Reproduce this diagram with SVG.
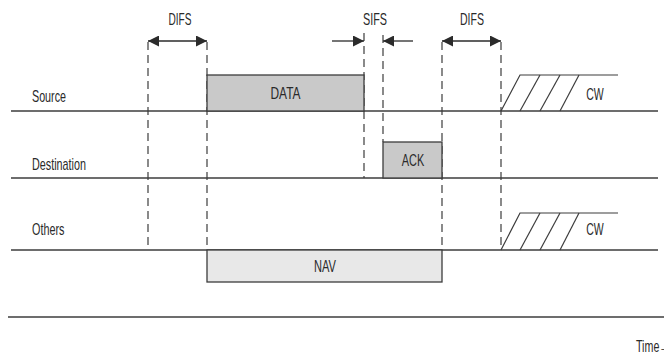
<svg xmlns="http://www.w3.org/2000/svg" width="664" height="354" viewBox="0 0 664 354">
  <defs>
    <marker id="head" viewBox="0 0 11 11" refX="11" refY="5.5" markerWidth="11" markerHeight="11" markerUnits="userSpaceOnUse" orient="auto-start-reverse">
      <path d="M0,0 L11,5.5 L0,11 Z" fill="#2b2b2b"/>
    </marker>
    <style>
      .lbl { font-family: "Liberation Sans", Arial, sans-serif; font-size: 17px; fill: #2a2a2a; }
      .mid { text-anchor: middle; }
      .lane { stroke: #3c3c3c; stroke-width: 1.4; fill: none; }
      .dash { stroke: #3c3c3c; stroke-width: 1.2; stroke-dasharray: 8 5; fill: none; }
      .frame { stroke: #3c3c3c; stroke-width: 1.3; }
      .hatch { stroke: #3c3c3c; stroke-width: 1.2; fill: none; }
      .span { stroke: #2b2b2b; stroke-width: 1.3; fill: none; }
    </style>
  </defs>

  <rect width="664" height="354" fill="#ffffff"/>

  <!-- station lanes -->
  <g id="lane-source">
    <line class="lane" x1="11" y1="111" x2="658" y2="111"/>
    <text class="lbl" x="32" y="101.5" textLength="34" lengthAdjust="spacingAndGlyphs">Source</text>
  </g>
  <g id="lane-destination">
    <line class="lane" x1="11" y1="178" x2="658" y2="178"/>
    <text class="lbl" x="32" y="170" textLength="54" lengthAdjust="spacingAndGlyphs">Destination</text>
  </g>
  <g id="lane-others">
    <line class="lane" x1="11" y1="250" x2="658" y2="250"/>
    <text class="lbl" x="32" y="235" textLength="32.5" lengthAdjust="spacingAndGlyphs">Others</text>
  </g>
  <g id="time-axis">
    <line class="lane" x1="8" y1="317" x2="664" y2="317"/>
    <text class="lbl" x="636" y="352" textLength="34" lengthAdjust="spacingAndGlyphs">Time→</text>
  </g>

  <!-- timing guides and interval arrows -->
  <g id="connectors">
    <line class="dash" x1="148" y1="42" x2="148" y2="250"/>
    <line class="dash" x1="207" y1="42" x2="207" y2="250"/>
    <line class="dash" x1="364" y1="33" x2="364" y2="178"/>
    <line class="dash" x1="383" y1="35" x2="383" y2="142"/>
    <line class="dash" x1="442" y1="42" x2="442" y2="250"/>
    <line class="dash" x1="501" y1="42" x2="501" y2="250"/>

    <line class="span" x1="148" y1="41" x2="207" y2="41" marker-start="url(#head)" marker-end="url(#head)"/>
    <line class="span" x1="332" y1="41" x2="364" y2="41" marker-end="url(#head)"/>
    <line class="span" x1="413" y1="41" x2="383" y2="41" marker-end="url(#head)"/>
    <line class="span" x1="442" y1="41" x2="501" y2="41" marker-start="url(#head)" marker-end="url(#head)"/>
  </g>

  <!-- interval labels -->
  <g id="difs-1">
    <text class="lbl mid" x="180" y="25" textLength="23" lengthAdjust="spacingAndGlyphs">DIFS</text>
  </g>
  <g id="sifs">
    <text class="lbl mid" x="375" y="25" textLength="24" lengthAdjust="spacingAndGlyphs">SIFS</text>
  </g>
  <g id="difs-2">
    <text class="lbl mid" x="472" y="25" textLength="24" lengthAdjust="spacingAndGlyphs">DIFS</text>
  </g>

  <!-- frames -->
  <g id="data">
    <rect class="frame" x="207" y="75" width="157" height="36" fill="#c9c9c9"/>
    <text class="lbl mid" x="285.5" y="99" textLength="30" lengthAdjust="spacingAndGlyphs">DATA</text>
  </g>
  <g id="ack">
    <rect class="frame" x="383" y="142" width="59" height="36" fill="#c9c9c9"/>
    <text class="lbl mid" x="413" y="166" textLength="22.5" lengthAdjust="spacingAndGlyphs">ACK</text>
  </g>
  <g id="nav">
    <rect class="frame" x="207" y="250" width="235" height="32" fill="#e8e8e8"/>
    <text class="lbl mid" x="325" y="271.5" textLength="22" lengthAdjust="spacingAndGlyphs">NAV</text>
  </g>

  <!-- contention windows -->
  <g id="cw-source">
    <polyline class="hatch" points="501,111 520,75 618,75"/>
    <line class="hatch" x1="520" y1="111" x2="540" y2="75"/>
    <line class="hatch" x1="540" y1="111" x2="560" y2="75"/>
    <line class="hatch" x1="560" y1="111" x2="579" y2="75"/>
    <text class="lbl mid" x="595" y="100" textLength="17.5" lengthAdjust="spacingAndGlyphs">CW</text>
  </g>
  <g id="cw-others">
    <polyline class="hatch" points="501,250 520,213 618,213"/>
    <line class="hatch" x1="520" y1="250" x2="540" y2="213"/>
    <line class="hatch" x1="540" y1="250" x2="560" y2="213"/>
    <line class="hatch" x1="560" y1="250" x2="579" y2="213"/>
    <text class="lbl mid" x="595" y="235" textLength="17.5" lengthAdjust="spacingAndGlyphs">CW</text>
  </g>
</svg>
